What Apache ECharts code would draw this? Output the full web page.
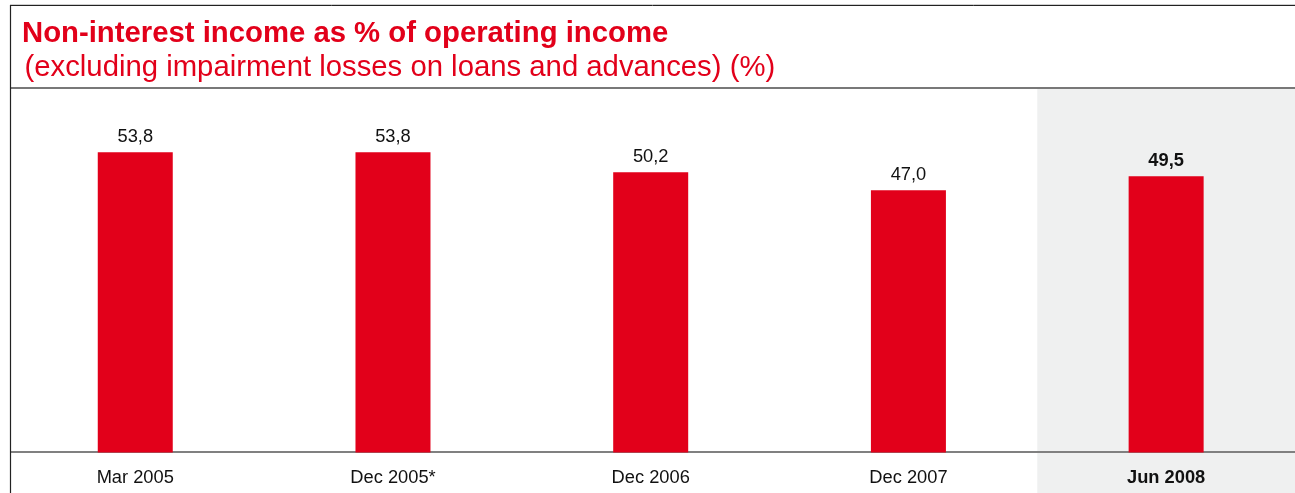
<!DOCTYPE html>
<html>
<head>
<meta charset="utf-8">
<script src="https://cdn.jsdelivr.net/npm/echarts@6/dist/echarts.min.js"></script>
<style>
  html, body { margin: 0; padding: 0; background: #fff; }
  #chart { width: 1295px; height: 493px; }
</style>
</head>
<body>
<div id="chart"></div>
<script>
// Reporting periods and the non-interest income share (%) for each
const periods = ['Mar 2005', 'Dec 2005*', 'Dec 2006', 'Dec 2007', 'Jun 2008'];
const shares = [53.8, 53.8, 50.2, 47.0, 49.5];
// The latest period is highlighted (bold text, shaded column)
const highlighted = 'Jun 2008';

const RED = '#e2001a';
const FONT = '"Liberation Sans", Arial, Helvetica, sans-serif';
const Y_MAX = 65.3;

const chart = echarts.init(document.getElementById('chart'), null, { renderer: 'canvas' });

const fmt = v => v.toFixed(1).replace('.', ',');

const option = {
  animation: false,
  backgroundColor: '#ffffff',
  textStyle: { fontFamily: FONT },
  title: [
    {
      text: 'Non-interest income as % of operating income',
      left: 22, top: 19, padding: 0,
      textStyle: { color: RED, fontSize: 29.3, fontWeight: 'bold', fontFamily: FONT }
    },
    {
      text: '(excluding impairment losses on loans and advances) (%)',
      left: 24.5, top: 53, padding: 0,
      textStyle: { color: RED, fontSize: 29.3, fontWeight: 'normal', fontFamily: FONT }
    }
  ],
  grid: { left: 6.4, right: -2.65, top: 88, bottom: 40.5, containLabel: false },
  xAxis: {
    type: 'category',
    data: periods.map(p => p === highlighted
      ? { value: p, textStyle: { fontWeight: 'bold' } }
      : p),
    axisTick: { show: false },
    axisLine: { show: false },
    axisLabel: { color: '#111', fontSize: 18.3, margin: 16, fontFamily: FONT, interval: 0 }
  },
  yAxis: {
    type: 'value', min: 0, max: Y_MAX, show: false, splitLine: { show: false }
  },
  series: [{
    type: 'bar',
    barWidth: 75,
    data: shares.map((v, i) => periods[i] === highlighted
      ? { value: v, label: { fontWeight: 'bold' } }
      : v),
    itemStyle: { color: RED },
    label: {
      show: true, position: 'top', distance: 6,
      color: '#111', fontSize: 18.3, fontFamily: FONT,
      formatter: p => fmt(p.value)
    },
    z: 3
  }]
};

chart.setOption(option);

// Frame, separator, baseline and shaded column, placed from the axes' own scales
function decorate() {
  const W = chart.getWidth(), H = chart.getHeight();
  const yTop = chart.convertToPixel({ yAxisIndex: 0 }, Y_MAX);
  const yBase = chart.convertToPixel({ yAxisIndex: 0 }, 0);
  const idx = periods.indexOf(highlighted);
  const c0 = chart.convertToPixel({ xAxisIndex: 0 }, periods[0]);
  const c1 = chart.convertToPixel({ xAxisIndex: 0 }, periods[1]);
  const band = c1 - c0;
  const cH = chart.convertToPixel({ xAxisIndex: 0 }, periods[idx]);
  const shadeX = cH - band / 2;

  chart.setOption({
    graphic: [
      { type: 'rect', z: -10, silent: true,
        shape: { x: shadeX, y: yTop, width: W - shadeX, height: H - yTop },
        style: { fill: '#eff0f0' } },
      { type: 'line', z: 1, silent: true,
        shape: { x1: 10, y1: yTop, x2: W, y2: yTop },
        style: { stroke: '#787878', lineWidth: 2 } },
      { type: 'line', z: 1, silent: true,
        shape: { x1: 10, y1: yBase - 0.5, x2: W, y2: yBase - 0.5 },
        style: { stroke: '#808080', lineWidth: 2 } },
      { type: 'line', z: 5, silent: true,
        shape: { x1: 10, y1: 4.5, x2: W, y2: 4.5 },
        style: { stroke: '#cfcfcf', lineWidth: 1 } },
      { type: 'line', z: 5, silent: true,
        shape: { x1: 10, y1: 5.5, x2: W, y2: 5.5 },
        style: { stroke: '#222', lineWidth: 1 } },
      { type: 'line', z: 5, silent: true,
        shape: { x1: 10.5, y1: 5, x2: 10.5, y2: H },
        style: { stroke: '#222', lineWidth: 1.2 } }
    ]
  });
}
decorate();
</script>
</body>
</html>
